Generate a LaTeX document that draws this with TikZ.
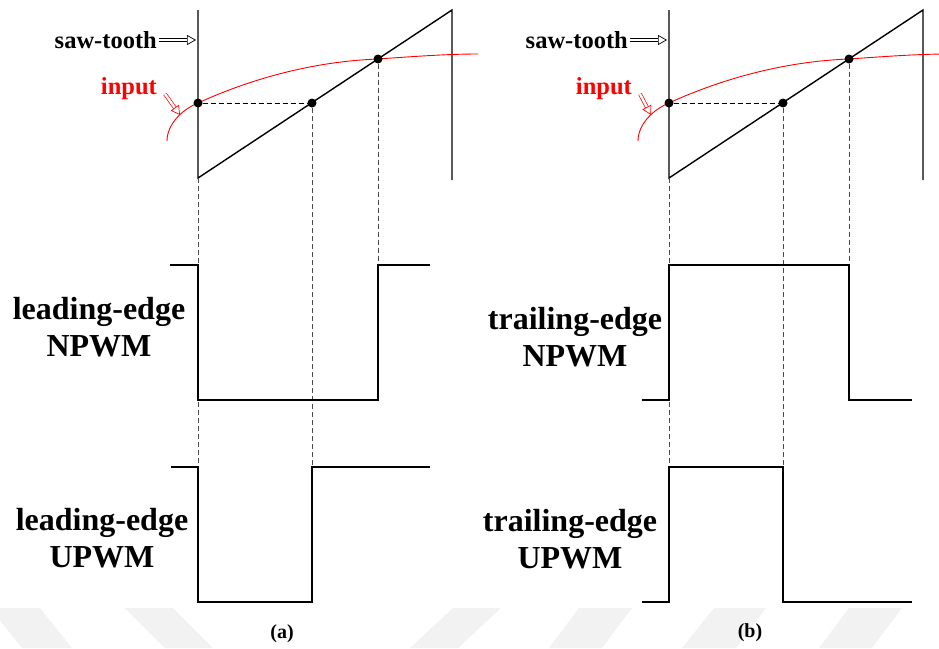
\documentclass[tikz,border=0pt]{standalone}
\usepackage{fontspec}
\setmainfont{Liberation Serif}
\usetikzlibrary{arrows.meta}
\usetikzlibrary{positioning}

\tikzset{
  wave/.style={line width=1.7pt},
  saw/.style={line width=1.4pt},
  guide/.style={dash pattern=on 5pt off 3pt, line width=1pt, black!70},
  hollow/.style={double, double distance=2.4pt, line width=0.7pt, -{Triangle[open,length=9pt,width=10pt]}},
  dot/.style={circle, fill=black, inner sep=0pt, minimum size=9pt},
  tag/.style={font=\bfseries\fontsize{24.5}{26}\selectfont, inner sep=0pt},
  big/.style={font=\bfseries\fontsize{32}{37}\selectfont, align=center, inner sep=0pt},
  sub/.style={font=\bfseries\fontsize{20}{22}\selectfont, inner sep=0pt}
}

\begin{document}
\begin{tikzpicture}[x=1pt, y=-1pt]
	\useasboundingbox (0,0) rectangle (939,648);
	\clip (0,0) rectangle (939,648);

	% faint background bands
	\foreach \u/\v/\w/\z in {-10/40/72/22, 125/173/213/165, 453/501/458/410, 579/632/602/549, 714/766/736/682, 849/902/872/819}
		\fill[black!5] (\u,608) -- (\v,608) -- (\w,648) -- (\z,648) -- cycle;

	% saw-tooth, input and guide lines of both panels
	\foreach \p/\dx/\ix in {a/0/0, b/471/4}
	{
		\begin{scope}[xshift=\dx pt, name prefix=\p-]
			\coordinate (sl) at (198,10);
			\coordinate (sb) at (198,178);
			\coordinate (sp) at (452,10);
			\coordinate (se) at (452,180);
			\coordinate (d1) at (198,467);
			\coordinate (d2) at (312,467);
			\coordinate (d3) at (378,265);
			\coordinate (sawhead) at (196,40);
			\coordinate (inhead) at (180,115);

			\draw[saw] (sl) -- (sb) -- (sp) -- (se);
			\draw[red, line width=0.9pt] (167,141) .. controls (167,125) and (181,110) .. (198,103)
				.. controls (235,86) and (300,62) .. (378,59) .. controls (420,56) and (450,54) .. (478,54);

			\node[dot] (x1) at (198,103) {};
			\node[dot] (x2) at (312,103) {};
			\node[dot] (x3) at (378,59) {};

			\draw[guide, black] (x1) -- (x2);
			\draw[guide] (sb) -- (d1);
			\draw[guide] (x2) -- (d2);
			\draw[guide] (x3) -- (d3);

			\node[tag, anchor=east] (saw) at (157,40) {saw-tooth};
			\node[tag, anchor=east, text=red] (input) at (157+\ix,89) {input};
			\draw[hollow] ([xshift=2pt]saw.east) -- (sawhead);
			\draw[hollow, red] ([shift={(8,5)}]input.east) -- (inhead);
		\end{scope}
	}

	% pulse trains
	\draw[wave] (170,265) -- (198,265) -- (198,400) -- (378,400) -- (378,265) -- (430,265);
	\draw[wave] (171,467) -- (198,467) -- (198,602) -- (312,602) -- (312,467) -- (430,467);
	\draw[wave] (642,400) -- (669,400) -- (669,265) -- (849,265) -- (849,400) -- (912,400);
	\draw[wave] (642,602) -- (669,602) -- (669,467) -- (783,467) -- (783,602) -- (912,602);

	\node[big] (a-npwm) at (99,327) {leading-edge\\NPWM};
	\node[big] (a-upwm) at (102,538) {leading-edge\\UPWM};
	\node[big] (b-npwm) at (575,337) {trailing-edge\\NPWM};
	\node[big] (b-upwm) at (570,539) {trailing-edge\\UPWM};

	\node[sub] (a-cap) at (282,634) {(a)};
	\node[sub] (b-cap) at (750,633) {(b)};
\end{tikzpicture}
\end{document}
